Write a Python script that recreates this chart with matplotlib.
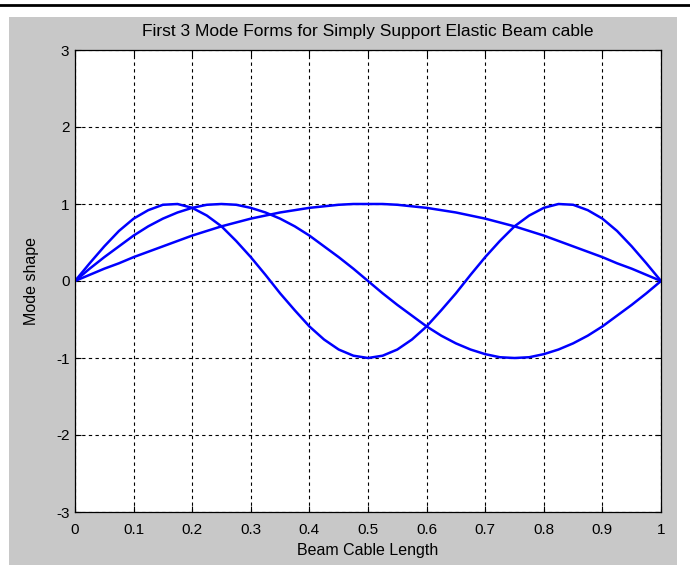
import matplotlib
matplotlib.use("Agg")
import matplotlib.pyplot as plt
from matplotlib.patches import Rectangle
from matplotlib.lines import Line2D

# beam positions
x = [0.0, 0.025, 0.05, 0.075, 0.1, 0.125, 0.15, 0.175, 0.2, 0.225,
     0.25, 0.275, 0.3, 0.325, 0.35, 0.375, 0.4, 0.425, 0.45, 0.475,
     0.5, 0.525, 0.55, 0.575, 0.6, 0.625, 0.65, 0.675, 0.7, 0.725,
     0.75, 0.775, 0.8, 0.825, 0.85, 0.875, 0.9, 0.925, 0.95, 0.975, 1.0]

mode1 = [0.0, 0.08, 0.16, 0.23, 0.31, 0.38, 0.45, 0.52, 0.59, 0.65,
         0.71, 0.76, 0.81, 0.85, 0.89, 0.92, 0.95, 0.97, 0.99, 1.0,
         1.0, 1.0, 0.99, 0.97, 0.95, 0.92, 0.89, 0.85, 0.81, 0.76,
         0.71, 0.65, 0.59, 0.52, 0.45, 0.38, 0.31, 0.23, 0.16, 0.08, 0.0]
mode2 = [0.0, 0.16, 0.31, 0.45, 0.59, 0.71, 0.81, 0.89, 0.95, 0.99,
         1.0, 0.99, 0.95, 0.89, 0.81, 0.71, 0.59, 0.45, 0.31, 0.16,
         0.0, -0.16, -0.31, -0.45, -0.59, -0.71, -0.81, -0.89, -0.95, -0.99,
         -1.0, -0.99, -0.95, -0.89, -0.81, -0.71, -0.59, -0.45, -0.31, -0.16, 0.0]
mode3 = [0.0, 0.23, 0.45, 0.65, 0.81, 0.92, 0.99, 1.0, 0.95, 0.85,
         0.71, 0.52, 0.31, 0.08, -0.16, -0.38, -0.59, -0.76, -0.89, -0.97,
         -1.0, -0.97, -0.89, -0.76, -0.59, -0.38, -0.16, 0.08, 0.31, 0.52,
         0.71, 0.85, 0.95, 1.0, 0.99, 0.92, 0.81, 0.65, 0.45, 0.23, 0.0]

xticks = [0, 0.1, 0.2, 0.3, 0.4, 0.5, 0.6, 0.7, 0.8, 0.9, 1]
xticklabels = ["0", "0.1", "0.2", "0.3", "0.4", "0.5", "0.6", "0.7", "0.8", "0.9", "1"]
yticks = [-3, -2, -1, 0, 1, 2, 3]

plt.rcParams['font.family'] = ['Liberation Sans', 'DejaVu Sans']
plt.rcParams['axes.unicode_minus'] = False

fig = plt.figure(figsize=(6.9, 5.65), dpi=100)
fig.patch.set_facecolor('white')

# grey matlab window area and the black rule on top
W, H = 690.0, 565.0
fig.add_artist(Rectangle((9 / W, 0), 668 / W, (H - 17) / H,
                         transform=fig.transFigure, facecolor='#c8c8c8',
                         edgecolor='none', zorder=-10))
fig.add_artist(Line2D([0, 1], [1 - 5 / H, 1 - 5 / H], transform=fig.transFigure,
                      color='black', lw=2))

ax = fig.add_axes([75 / W, 1 - 512 / H, 586 / W, 462 / H])
ax.set_facecolor('white')

for m in (mode1, mode2, mode3):
    ax.plot(x, m, color='#0000ff', lw=1.8)

ax.set_xlim(0, 1)
ax.set_ylim(-3, 3)
ax.set_xticks(xticks)
ax.set_xticklabels(xticklabels)
ax.set_yticks(yticks)
ax.grid(True, color='black', linestyle=(0, (3, 3)), lw=0.8)
ax.tick_params(direction='in', top=True, right=True, length=4, width=0.8,
               labelsize=11)
ax.tick_params(axis='x', pad=8)
ax.tick_params(axis='y', pad=4)
for s in ax.spines.values():
    s.set_linewidth(0.9)

ax.set_title('First 3 Mode Forms for Simply Support Elastic Beam cable',
             fontsize=12.5, pad=10)
ax.set_xlabel('Beam Cable Length', fontsize=11.5, labelpad=4)
ax.set_ylabel('Mode shape', fontsize=11.5, labelpad=12)

fig.savefig('out.png', dpi=100)
